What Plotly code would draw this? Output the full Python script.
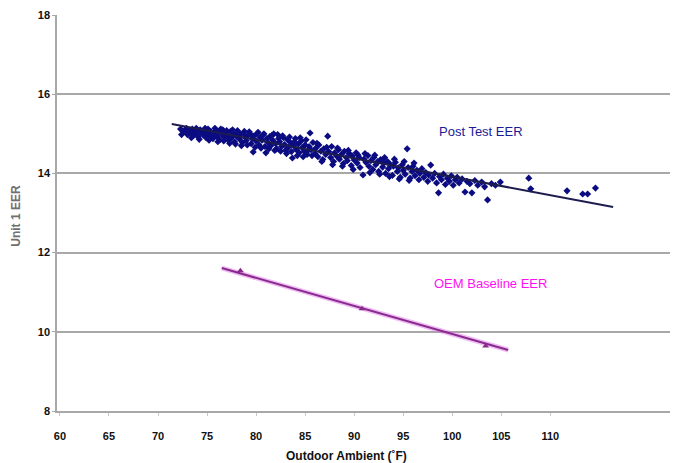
import plotly.graph_objects as go

# ---------------- data ----------------
post_x = [
    72.3, 72.6, 72.8, 73.0, 73.1, 73.3, 73.5, 73.6, 73.8, 74.0,
    74.1, 74.3, 74.4, 74.6, 74.7, 74.9, 75.0, 75.1, 75.3, 75.4,
    75.6, 75.7, 75.9, 76.0, 76.2, 76.3, 76.5, 76.6, 76.8, 76.9,
    77.1, 77.2, 77.4, 77.5, 77.7, 77.8, 78.0, 78.1, 78.3, 78.4,
    78.6, 78.7, 78.9, 79.0, 79.2, 79.3, 79.5, 79.6, 79.7, 79.8,
    80.0, 80.1, 80.3, 80.4, 80.6, 80.7, 80.9, 81.0, 81.1, 81.2,
    81.4, 81.5, 81.7, 81.8, 82.0, 82.1, 82.3, 82.4, 82.6, 82.7,
    82.9, 83.0, 83.2, 83.3, 83.5, 83.7, 83.8, 84.0, 84.1, 84.3,
    84.4, 84.6, 84.7, 84.9, 85.0, 85.2, 85.4, 85.5, 85.6, 85.8,
    86.0, 86.1, 86.3, 86.4, 86.6, 86.8, 86.9, 87.1, 87.3, 87.4,
    87.6, 87.7, 87.9, 88.0, 88.2, 88.4, 88.5, 88.7, 88.9, 89.0,
    89.2, 89.3, 89.5, 89.7, 89.8, 90.0, 90.2, 90.3, 90.5, 90.6,
    90.9, 91.0, 91.2, 91.4, 91.5, 91.7, 91.9, 92.0, 92.2, 92.4,
    92.5, 92.7, 92.9, 93.0, 93.2, 93.4, 93.5, 93.7, 93.9, 94.0,
    94.2, 94.4, 94.5, 94.7, 94.9, 95.0, 95.2, 95.4, 95.5, 95.7,
    95.9, 96.0, 96.2, 96.4, 96.6, 96.7, 96.9, 97.1, 97.3, 97.5,
    97.6, 97.8, 98.0, 98.2, 98.4, 98.6, 98.7, 98.9, 99.1, 99.3,
    99.5, 99.7, 99.9, 100.1, 100.3, 100.5, 100.7, 101.0, 101.3, 101.5,
    101.8, 102.0, 102.3, 102.6, 103.0, 103.3, 103.6, 104.0, 104.4, 104.9,
    107.8, 108.0, 111.7, 113.3, 113.8, 114.6,
    72.4, 72.9, 73.4, 73.9, 74.2, 74.8, 75.2, 75.8, 76.1, 76.4,
    76.7, 77.0, 77.3, 77.6, 77.9, 78.2, 78.5, 78.8, 79.1, 79.4,
    79.9, 80.2, 80.5, 80.8, 81.3, 81.6, 81.9, 82.2, 82.5, 82.8,
    83.1, 83.4, 83.6, 83.9, 84.2, 84.5, 84.8, 85.1, 85.3, 85.7,
    86.2, 86.7, 87.2, 87.8, 88.3, 88.8, 89.4, 89.9, 90.4, 91.1,
    91.6, 92.1, 92.6, 93.1, 93.6, 94.1, 94.6, 95.1, 95.6, 96.1,
]
post_y = [
    15.12, 15.05, 15.10, 14.98, 15.08, 15.02, 15.12, 14.95, 15.06, 15.00,
    14.92, 15.10, 15.03, 14.97, 15.08, 14.90, 15.02, 15.12, 14.95, 15.05,
    14.88, 15.00, 15.09, 14.93, 15.04, 14.85, 14.98, 15.10, 14.91, 15.03,
    14.96, 14.84, 15.06, 14.90, 15.00, 14.80, 14.94, 15.08, 14.87, 14.98,
    14.78, 15.02, 14.91, 14.83, 14.97, 15.05, 14.75, 14.88, 14.54, 14.95,
    14.82, 15.00, 14.72, 14.90, 14.84, 14.97, 14.68, 14.52, 14.88, 14.78,
    14.93, 14.70, 14.84, 15.00, 14.75, 14.62, 14.88, 14.80, 14.68, 14.95,
    14.73, 14.58, 14.85, 14.66, 14.78, 14.39, 14.70, 14.88, 14.60, 14.74,
    14.52, 14.82, 14.65, 14.56, 14.72, 14.48, 14.68, 15.02, 14.60, 14.78,
    14.50, 14.64, 14.42, 14.72, 14.56, 14.35, 14.62, 14.48, 14.94, 14.55,
    14.40, 14.68, 14.30, 14.52, 14.44, 14.60, 14.36, 14.48, 14.25, 14.56,
    14.40, 14.32, 14.50, 14.20, 14.44, 14.34, 14.52, 14.26, 14.40, 14.15,
    13.96, 14.36, 14.28, 14.45, 14.18, 14.32, 14.10, 14.40, 14.22, 14.30,
    14.05, 14.35, 14.16, 14.26, 14.00, 14.30, 14.12, 14.22, 13.95, 14.18,
    14.28, 14.05, 14.14, 13.90, 14.22, 14.08, 13.98, 14.62, 14.15, 13.88,
    14.05, 14.18, 13.94, 14.08, 13.84, 14.00, 14.12, 13.90, 14.02, 13.80,
    13.96, 14.21, 13.88, 14.00, 13.76, 13.51, 13.92, 13.84, 13.98, 13.72,
    13.88, 13.80, 13.94, 13.70, 13.84, 13.90, 13.76, 13.86, 13.53, 13.80,
    13.74, 13.51, 13.82, 13.70, 13.78, 13.66, 13.33, 13.74, 13.70, 13.78,
    13.88, 13.61, 13.56, 13.48, 13.48, 13.63,
    14.98, 15.14, 14.90, 15.14, 14.86, 15.14, 14.84, 15.14, 14.80, 15.12,
    14.82, 15.08, 14.76, 15.10, 14.74, 15.04, 14.70, 15.06, 14.72, 15.00,
    14.66, 15.04, 14.64, 15.00, 14.62, 14.96, 14.58, 14.98, 14.56, 14.90,
    14.50, 14.92, 14.55, 14.80, 14.45, 14.90, 14.42, 14.85, 14.58, 14.45,
    14.76, 14.30, 14.66, 14.22, 14.64, 14.18, 14.58, 14.10, 14.46, 14.50,
    14.02, 14.46, 13.98, 14.40, 13.92, 14.36, 13.86, 14.30, 13.82, 14.26,
]

post_trend_x = [71.4, 116.4]
post_trend_y = [15.25, 13.15]

oem_x = [78.4, 90.8, 103.4]
oem_y = [11.54, 10.58, 9.64]
oem_trend_x = [76.5, 105.7]
oem_trend_y = [11.61, 9.54]

x_ticks = [60, 65, 70, 75, 80, 85, 90, 95, 100, 105, 110]
y_ticks = [8, 10, 12, 14, 16, 18]

# ---------------- figure ----------------
fig = go.Figure()

fig.add_trace(go.Scatter(
    x=post_x, y=post_y, mode="markers",
    marker=dict(color="#0c0c82", size=5.5, symbol="diamond"),
    showlegend=False, hoverinfo="skip"))

fig.add_trace(go.Scatter(
    x=post_trend_x, y=post_trend_y, mode="lines",
    line=dict(color="#1c1c4e", width=2),
    showlegend=False, hoverinfo="skip"))

fig.add_trace(go.Scatter(
    x=oem_trend_x, y=oem_trend_y, mode="lines",
    line=dict(color="#e070e8", width=5),
    opacity=0.45, showlegend=False, hoverinfo="skip"))

fig.add_trace(go.Scatter(
    x=oem_trend_x, y=oem_trend_y, mode="lines",
    line=dict(color="#8a2a8e", width=2),
    showlegend=False, hoverinfo="skip"))

fig.add_trace(go.Scatter(
    x=oem_x, y=oem_y, mode="markers",
    marker=dict(color="#8a2a8e", size=6, symbol="triangle-up"),
    showlegend=False, hoverinfo="skip"))

fig.add_annotation(x=102.9, y=15.07, text="Post Test EER", showarrow=False,
                   font=dict(family="Arial", size=13, color="#1a1a9a"))
fig.add_annotation(x=103.9, y=11.23, text="OEM Baseline EER", showarrow=False,
                   font=dict(family="Arial", size=13, color="#ff10f0"))

fig.add_annotation(xref="paper", yref="paper", x=0.473, y=-0.114,
                   xanchor="center", yanchor="middle",
                   text="Outdoor Ambient (˚F)", showarrow=False,
                   font=dict(family="Arial", size=12, color="#111111", weight="bold"))
fig.add_annotation(xref="paper", yref="paper", x=-0.066, y=0.492,
                   xanchor="center", yanchor="middle",
                   text="Unit 1 EER", showarrow=False, textangle=-90,
                   font=dict(family="Arial", size=12, color="#707070", weight="bold"))

fig.update_layout(
    width=688, height=463,
    margin=dict(l=49, r=26, t=7, b=60, autoexpand=False),
    paper_bgcolor="white", plot_bgcolor="white",
    font=dict(family="Arial", color="#111111"),
)

fig.update_xaxes(
    range=[59.7, 122.2], tickvals=x_ticks, ticktext=[str(v) for v in x_ticks],
    tickfont=dict(family="Arial", size=11, color="#111111", weight="bold"),
    showgrid=False, zeroline=False, showline=True, linecolor="#a8a8a8",
    linewidth=1.5, ticks="outside", ticklen=3, tickcolor="#c8c8c8",
    ticklabelstandoff=11, automargin=False,
)
fig.update_yaxes(
    range=[8, 18], tickvals=y_ticks, ticktext=[str(v) for v in y_ticks],
    tickfont=dict(family="Arial", size=11, color="#111111", weight="bold"),
    showgrid=True, gridcolor="#a8a8a8", gridwidth=1.5,
    zeroline=False, showline=True, linecolor="#a8a8a8", linewidth=1.5,
    ticks="outside", ticklen=3, tickcolor="#a8a8a8", automargin=False,
)

fig.write_html("out.html")
